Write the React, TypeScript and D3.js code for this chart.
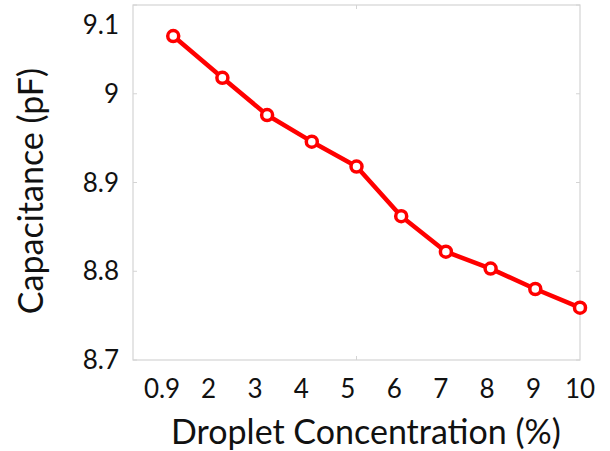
import React from "react";
import * as d3 from "d3";

const concentration = [0.9, 2, 3, 4, 5, 6, 7, 8, 9, 10];
const capacitance = [9.065, 9.018, 8.976, 8.946, 8.918, 8.862, 8.822, 8.803, 8.780, 8.759];
const xLabels = ["0.9", "2", "3", "4", "5", "6", "7", "8", "9", "10"];
const yTicks = [8.7, 8.8, 8.9, 9, 9.1];
const xTicks = [5];

export default function App() {
  const width = 610;
  const height = 451;
  const m = { left: 133, top: 5, right: 30, bottom: 91 };
  const FONT = "Lato, 'Open Sans', sans-serif";

  const x = d3.scaleLinear().domain([0, 10]).range([m.left, width - m.right]);
  const y = d3.scaleLinear().domain([8.7, 9.1]).range([height - m.bottom, m.top]);
  // the tick labels sit on their own evenly spaced grid
  const xLab = d3.scalePoint<string>().domain(xLabels).range([x(0.65), x(10)]);

  const pts = concentration.map((c, i) => [c, capacitance[i]] as [number, number]);
  const line = d3.line<[number, number]>().x(d => x(d[0])).y(d => y(d[1]));

  const x0 = x(0), x1 = x(10), y0 = y(8.7), y1 = y(9.1);

  return (
    <svg width={width} height={height} style={{ position: "absolute", left: 0, top: 0 }}>
      <rect x={x0} y={y1} width={x1 - x0} height={y0 - y1} fill="none" stroke="#d4d4d4" strokeWidth={1.2} />
      {yTicks.map(t => (
        <g key={t}>
          <line x1={x0} x2={x0 + 4} y1={y(t)} y2={y(t)} stroke="#d4d4d4" />
          <line x1={x1} x2={x1 - 4} y1={y(t)} y2={y(t)} stroke="#d4d4d4" />
          <text x={x0 - 14} y={t === 9.1 ? y(t) + 20 : y(t)} dy="0.35em" textAnchor="end"
            fontSize={26} fontFamily={FONT} fill="#111">{String(t)}</text>
        </g>
      ))}
      {xTicks.map(t => (
        <g key={t}>
          <line x1={x(t)} x2={x(t)} y1={y0} y2={y0 - 4} stroke="#d4d4d4" />
          <line x1={x(t)} x2={x(t)} y1={y1} y2={y1 + 4} stroke="#d4d4d4" />
        </g>
      ))}
      {xLabels.map(l => (
        <text key={l} x={xLab(l)} y={y0 + 29} dy="0.35em" textAnchor="middle"
          fontSize={26} fontFamily={FONT} fill="#111">{l}</text>
      ))}
      <path d={line(pts) || ""} fill="none" stroke="#ff0000" strokeWidth={4.5} strokeLinejoin="round" />
      {pts.map((d, i) => (
        <circle key={i} cx={x(d[0])} cy={y(d[1])} r={5.5} fill="#fff" stroke="#ff0000" strokeWidth={3.5} />
      ))}
      <text x={366} y={y0 + 72} dy="0.35em" textAnchor="middle"
        fontSize={34} fontFamily={FONT} fill="#111">Droplet Concentration (%)</text>
      <text transform={`translate(31,191) rotate(-90)`} dy="0.35em" textAnchor="middle"
        fontSize={34} fontFamily={FONT} fill="#111">Capacitance (pF)</text>
    </svg>
  );
}
